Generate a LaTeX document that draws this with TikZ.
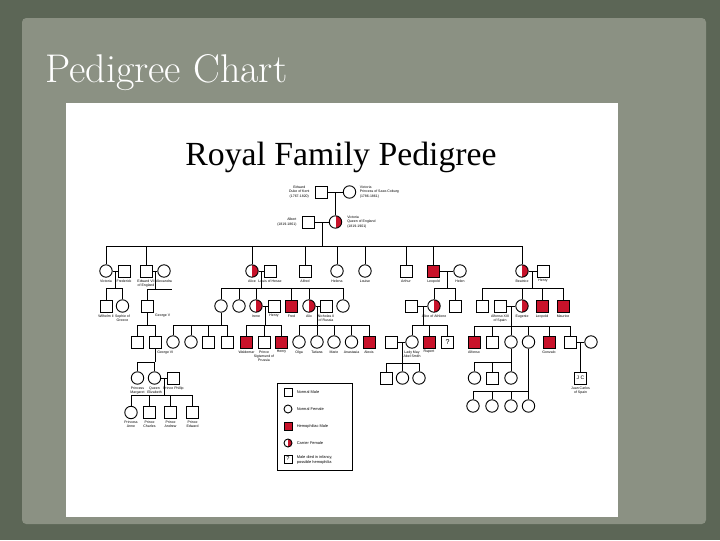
\documentclass[tikz,border=0pt]{standalone}
\usepackage{fontspec}
\setsansfont{Liberation Sans}
\newfontfamily\timesfont{Liberation Serif}
\usetikzlibrary{positioning}
\definecolor{hemored}{RGB}{200,18,42}
\definecolor{slateback}{RGB}{92,102,86}
\definecolor{slatepaper}{RGB}{139,145,131}

\begin{document}
\begin{tikzpicture}[x=0.025cm, y=-0.025cm, line width=0.65pt,
    male/.style={draw, rectangle, minimum size=3mm, inner sep=0pt, fill=white},
    female/.style={draw, circle, minimum size=3.1mm, inner sep=0pt, fill=white},
    hemo/.style={male, fill=hemored},
    carrier/.style={female, path picture={\fill[hemored] (path picture bounding box.south) rectangle (path picture bounding box.north east);}},
    lbl/.style={font=\sffamily\fontsize{2.5}{3}\selectfont, align=center, inner sep=0.3pt},
    keylbl/.style={lbl, anchor=west, align=left, font=\sffamily\fontsize{2.8}{3.4}\selectfont},
    every label/.style={lbl}, label distance=0.8pt]

\useasboundingbox (0,0) rectangle (720,540);
\fill[slateback] (0,0) rectangle (720,540);
\fill[slatepaper, rounded corners=3pt] (22,18) rectangle (706,524);
\node[white, anchor=base west, font=\fontsize{28.5}{30}\selectfont] (title) at (40,82) {Pedigree Chart};
\fill[white] (66,103) rectangle (618,517);
\node[font=\timesfont\fontsize{24}{26}\selectfont, anchor=base] (heading) at (341,165) {Royal Family Pedigree};

% generation I and II
\node[male] (edward) at (321,192) {};
\node[female] (vmother) at (349.5,192) {};
\node[lbl, left=3pt of edward] (edwardlbl) {Edward\\Duke of Kent\\(1767-1820)};
\node[lbl, right=2pt of vmother, align=left] (vmotherlbl) {Victoria\\Princess of Saxe-Coburg\\(1786-1861)};
\node[male] (albert) at (308,222) {};
\node[carrier] (victoria) at (335.5,222) {};
\node[lbl, left=3pt of albert, align=right] (albertlbl) {Albert\\(1819-1861)};
\node[lbl, right=3pt of victoria, align=left] (victorialbl) {Victoria\\Queen of England\\(1819-1901)};

\coordinate (kentM) at (335.5,192);
\coordinate (albM) at (322,222);
\coordinate (albS) at (322,246);

% generation III
\node[female, label=below:Victoria] (vicjr) at (106,271) {};
\node[male, label=below:Frederick] (fred) at (124,271) {};
\node[male, label={below:{Edward VII\\of England}}] (edwardvii) at (146,271) {};
\node[female, label=below:Alexandra] (alexandra) at (164,271) {};
\node[carrier, label=below:Alice] (alice) at (252,271) {};
\node[male, label=below:Louis of Hesse] (louis) at (270,271) {};
\node[male, label=below:Alfred] (alfred) at (305,271) {};
\node[female, label=below:Helena] (helena) at (337,271) {};
\node[female, label=below:Louise] (louise) at (365,271) {};
\node[male, label=below:Arthur] (arthur) at (406,271) {};
\node[hemo, label=below:Leopold] (leopold) at (433.5,271) {};
\node[female, label=below:Helen] (helen) at (460,271) {};
\node[carrier, label=below:Beatrice] (beatrice) at (522,271) {};
\node[male, label=below:Henry] (henryb) at (543,271) {};

% generation IV
\node[male, label=below:Wilhelm II] (wilhelm) at (106,306) {};
\node[female, label={below:{Sophie of\\Greece}}] (sophie) at (122.5,306) {};
\node[male, label={[anchor=north west]south east:George V}] (georgev) at (147,306) {};
\node[female] (vhesse) at (221,306) {};
\node[female] (ella) at (239,306) {};
\node[carrier, label=below:Irene] (irene) at (256,306) {};
\node[male, label=below:Henry] (henryp) at (274,306) {};
\node[hemo, label=below:Fred] (fritz) at (291.5,306) {};
\node[carrier, label=below:Alix] (alix) at (309,306) {};
\node[male, label={below:{Nicholas II\\of Russia}}] (nicholas) at (326,306) {};
\node[female] (hessemay) at (343,306) {};
\node[male] (alexander) at (411.5,306) {};
\node[carrier, label=below:Alice of Athlone] (aliceath) at (434,306) {};
\node[male] (charlesed) at (455,306) {};
\node[male] (alexb) at (482,306) {};
\node[male, label={below:{Alfonso XIII\\of Spain}}] (alfonsoxiii) at (500,306) {};
\node[carrier, label=below:Eugenie] (eugenie) at (522,306) {};
\node[hemo, label=below:Leopold] (leopoldb) at (542,306) {};
\node[hemo, label=below:Maurice] (maurice) at (563,306) {};

% generation V
\node[male] (edwardviii) at (137,342) {};
\node[male] (georgevi) at (155,342) {};
\node[lbl, anchor=north west] (georgevilbl) at ([xshift=1pt,yshift=-1pt]georgevi.south) {George VI};
\node[female] (alicebat) at (173,342) {};
\node[female] (louiseb) at (191,342) {};
\node[male] (georgeb) at (208.5,342) {};
\node[male] (louismb) at (227,342) {};
\node[hemo, label=below:Waldemar] (waldemar) at (246.5,342) {};
\node[male, label={below:{Prince\\Sigismund of\\Prussia}}] (sigismund) at (264,342) {};
\node[hemo, label=below:Henry] (henryi) at (281.5,342) {};
\node[female, label=below:Olga] (olga) at (299,342) {};
\node[female, label=below:Tatiana] (tatiana) at (317,342) {};
\node[female, label=below:Marie] (marie) at (334,342) {};
\node[female, label=below:Anastasia] (anastasia) at (351.5,342) {};
\node[hemo, label=below:Alexis] (alexis) at (369,342) {};
\node[male] (abelsmith) at (391.5,342) {};
\node[female, label={below:{Lady May\\Abel Smith}}] (maycam) at (412,342) {};
\node[hemo, label=below:Rupert] (rupert) at (429,342) {};
\node[male, font=\sffamily\fontsize{5}{5}\selectfont] (infant) at (447.5,342) {?};
\node[hemo, label=below:Alfonso] (alfonsop) at (474,342) {};
\node[male] (jaime) at (492.5,342) {};
\node[female] (beatriz) at (511,342) {};
\node[female] (mariac) at (528.5,342) {};
\node[hemo, label=below:Gonzalo] (gonzalo) at (549,342) {};
\node[male] (juan) at (570,342) {};
\node[female] (mercedes) at (591,342) {};

% generation VI
\node[female, label={below:{Princess\\Margaret}}] (margaret) at (137.5,378) {};
\node[female, label={below:{Queen\\Elizabeth}}] (elizabeth) at (154.5,378) {};
\node[male, label=below:Prince Phillip] (philip) at (173.5,378) {};
\node[male] (smitha) at (386,378) {};
\node[female] (smithb) at (402.5,378) {};
\node[female] (smithc) at (419,378) {};
\node[female] (torla) at (474.5,378) {};
\node[male] (torlb) at (492.5,378) {};
\node[female] (torlc) at (511,378) {};
\node[male, font=\sffamily\fontsize{3.6}{4}\selectfont, label={below:{Juan Carlos\\of Spain}}] (juancarlos) at (580.5,378) {J C};

% generation VII
\node[female, label={below:{Princess\\Anne}}] (anne) at (131,412.5) {};
\node[male, label={below:{Prince\\Charles}}] (charles) at (149.5,412.5) {};
\node[male, label={below:{Prince\\Andrew}}] (andrew) at (170.5,412.5) {};
\node[male, label={below:{Prince\\Edward}}] (edwardw) at (192.5,412.5) {};
\node[female] (marcha) at (473,406) {};
\node[female] (marchb) at (492,406) {};
\node[female] (marchc) at (511,406) {};
\node[female] (marchd) at (528.5,406) {};

% junctions
\coordinate (fredM) at (115,271);  \coordinate (fredS) at (115,288);
\coordinate (edwM) at (155,271);   \coordinate (edwS) at (155,289);
\coordinate (edwE) at (172,289);
\coordinate (hesseM) at (261,271); \coordinate (hesseS) at (261,288);
\coordinate (albanyM) at (447,271); \coordinate (albanyS) at (447,288);
\coordinate (battM) at (532.5,271); \coordinate (battS) at (532.5,288);
\coordinate (georgeS) at (147,325);
\coordinate (vhesseS) at (221,325);
\coordinate (ireneM) at (265,306); \coordinate (ireneS) at (265,325);
\coordinate (alixM) at (317.5,306); \coordinate (alixS) at (317.5,325);
\coordinate (athM) at (423,306);   \coordinate (athS) at (423,325);
\coordinate (spainM) at (511,306); \coordinate (spainS) at (511,326);
\coordinate (gviS) at (155,362);
\coordinate (mayM) at (402,342);   \coordinate (mayS) at (402,363);
\coordinate (beatrizS) at (511,362);
\coordinate (juanM) at (580.5,342);
\coordinate (windsorM) at (164,378); \coordinate (windsorS) at (164,395);
\coordinate (mariacS) at (528.5,391);

% marriages
\path[draw]
  (edward) -- (vmother)
  (albert) -- (victoria)
  (vicjr) -- (fred)
  (edwardvii) -- (alexandra)
  (alice) -- (louis)
  (leopold) -- (helen)
  (beatrice) -- (henryb)
  (irene) -- (henryp)
  (alix) -- (nicholas)
  (alexander) -- (aliceath)
  (alfonsoxiii) -- (eugenie)
  (abelsmith) -- (maycam)
  (juan) -- (mercedes)
  (elizabeth) -- (philip);

% descent
\path[draw]
  (kentM) -- (victoria)
  (albM) -- (albS) (vicjr |- albS) -- (beatrice |- albS)
  (fredM) -- (fredS) (wilhelm |- fredS) -- (sophie |- fredS)
  (edwM) -- (edwS) (georgev |- edwS) -- (edwE)
  (hesseM) -- (hesseS) (vhesse |- hesseS) -- (hessemay |- hesseS)
  (albanyM) -- (albanyS) (aliceath |- albanyS) -- (charlesed |- albanyS)
  (battM) -- (battS) (alexb |- battS) -- (maurice |- battS)
  (georgev) -- (georgeS) (edwardviii |- georgeS) -- (georgevi |- georgeS)
  (vhesse) -- (vhesseS) (alicebat |- vhesseS) -- (louismb |- vhesseS)
  (ireneM) -- (ireneS) (waldemar |- ireneS) -- (henryi |- ireneS)
  (alixM) -- (alixS) (olga |- alixS) -- (alexis |- alixS)
  (athM) -- (athS) (maycam |- athS) -- (infant |- athS)
  (spainM) -- (spainS) (alfonsop |- spainS) -- (juan |- spainS)
  (georgevi) -- (gviS) (margaret |- gviS) -- (elizabeth |- gviS)
  (mayM) -- (mayS) (smitha |- mayS) -- (smithc |- mayS)
  (beatriz) -- (beatrizS) (torla |- beatrizS) -- (torlc |- beatrizS)
  (juanM) -- (juancarlos)
  (windsorM) -- (windsorS) (anne |- windsorS) -- (edwardw |- windsorS)
  (mariac) -- (mariacS) (marcha |- mariacS) -- (marchd |- mariacS);

\foreach \c in {vicjr,edwardvii,alice,alfred,helena,louise,arthur,leopold,beatrice}
  \draw (\c |- albS) -- (\c);
\foreach \c in {wilhelm,sophie} \draw (\c |- fredS) -- (\c);
\draw (georgev |- edwS) -- (georgev);
\foreach \c in {vhesse,ella,irene,fritz,alix,hessemay} \draw (\c |- hesseS) -- (\c);
\foreach \c in {aliceath,charlesed} \draw (\c |- albanyS) -- (\c);
\foreach \c in {alexb,eugenie,leopoldb,maurice} \draw (\c |- battS) -- (\c);
\foreach \c in {edwardviii,georgevi} \draw (\c |- georgeS) -- (\c);
\foreach \c in {alicebat,louiseb,georgeb,louismb} \draw (\c |- vhesseS) -- (\c);
\foreach \c in {waldemar,sigismund,henryi} \draw (\c |- ireneS) -- (\c);
\foreach \c in {olga,tatiana,marie,anastasia,alexis} \draw (\c |- alixS) -- (\c);
\foreach \c in {maycam,rupert,infant} \draw (\c |- athS) -- (\c);
\foreach \c in {alfonsop,jaime,beatriz,mariac,gonzalo,juan} \draw (\c |- spainS) -- (\c);
\foreach \c in {margaret,elizabeth} \draw (\c |- gviS) -- (\c);
\foreach \c in {smitha,smithb,smithc} \draw (\c |- mayS) -- (\c);
\foreach \c in {torla,torlb,torlc} \draw (\c |- beatrizS) -- (\c);
\foreach \c in {anne,charles,andrew,edwardw} \draw (\c |- windsorS) -- (\c);
\foreach \c in {marcha,marchb,marchc,marchd} \draw (\c |- mariacS) -- (\c);

% legend
\node[draw, minimum width=1.875cm, minimum height=2.175cm, anchor=north west] (legend) at (277,383) {};
\node[male, minimum size=2mm] (keymale) at (288,392) {};
\node[female, minimum size=2mm] (keyfemale) at (288,409) {};
\node[hemo, minimum size=2mm] (keyhemo) at (288,426) {};
\node[carrier, minimum size=2mm] (keycarrier) at (288,443) {};
\node[male, minimum size=2mm, font=\sffamily\fontsize{4}{4}\selectfont] (keyinfant) at (288,459) {?};
\node[keylbl] (keymalelbl) at (296,392) {Normal Male};
\node[keylbl] (keyfemalelbl) at (296,409) {Normal Female};
\node[keylbl] (keyhemolbl) at (296,426) {Hemophiliac Male};
\node[keylbl] (keycarrierlbl) at (296,443) {Carrier Female};
\node[keylbl] (keyinfantlbl) at (296,460) {Male died in infancy,\\possible hemophilia};
\end{tikzpicture}
\end{document}
